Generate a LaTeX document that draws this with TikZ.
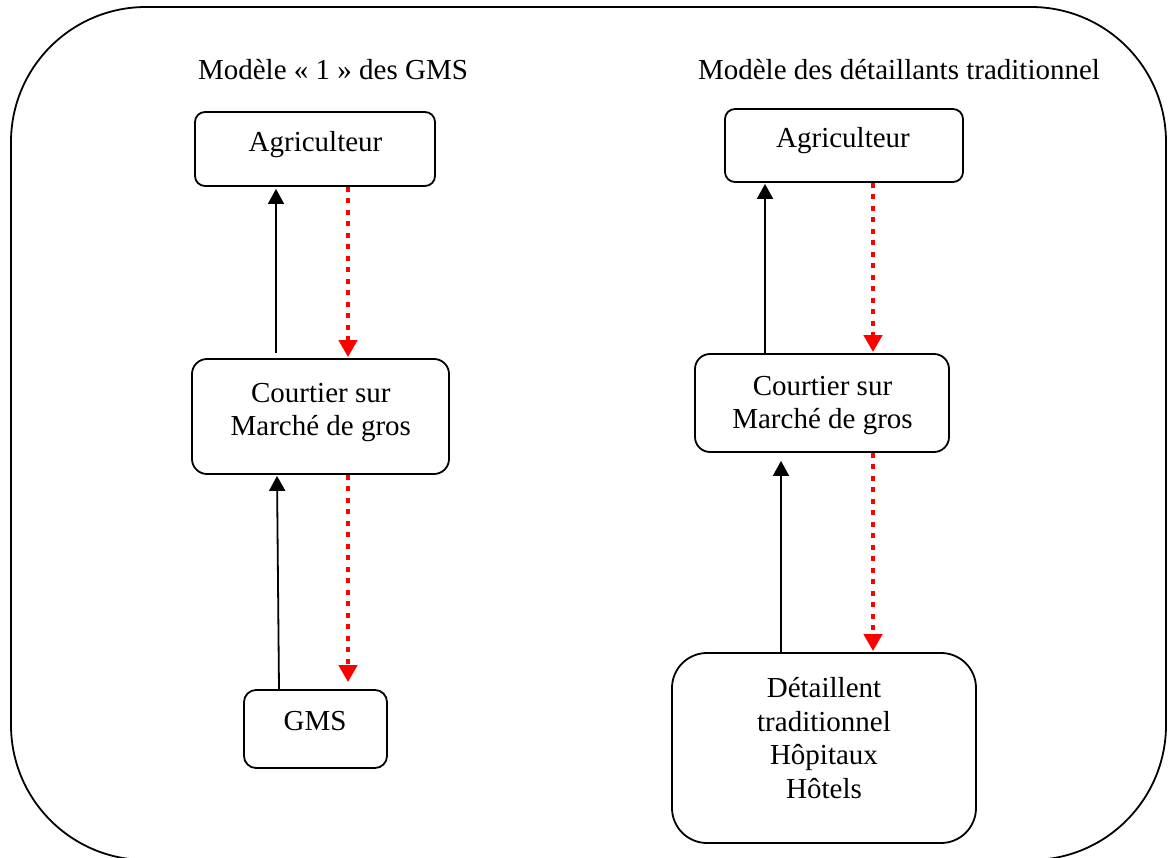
\documentclass[tikz,border=0pt]{standalone}
\usepackage{fontspec}
\setmainfont{Liberation Serif}
\usetikzlibrary{arrows.meta}
\begin{document}
\begin{tikzpicture}[x=1pt,y=-1pt,
  box/.style={draw=black, line width=1.8pt, inner sep=0pt},
  txt/.style={font=\fontsize{29}{33.5}\selectfont, inner sep=0pt, align=center, anchor=base},
  blackarrow/.style={draw=black, line width=1.8pt, -{Triangle[length=15pt,width=16pt]}},
  redarrow/.style={draw=red, line width=4.2pt, dash pattern=on 5pt off 6.5pt, -{Triangle[length=17pt,width=18pt,fill=red]}}
]
\useasboundingbox (0,0) rectangle (1170,858);
\clip (0,0) rectangle (1170,858);
% outer frame
\draw[line width=1.8pt, rounded corners=135pt] (11,7) rectangle (1166,860);

% titles
\node[txt] (titleL) at (333,80) {Modèle « 1 » des GMS};
\node[txt] (titleR) at (899,80) {Modèle des détaillants traditionnel};

% left column boxes
\node[box, rounded corners=10pt, minimum width=240pt, minimum height=74pt] (agL) at (315,149) {};
\node[box, rounded corners=15pt, minimum width=257pt, minimum height=115pt] (coL) at (320.5,416.5) {};
\node[box, rounded corners=12pt, minimum width=143pt, minimum height=78pt] (gms) at (315.5,729) {};
\node[txt] (agLt) at (315.5,152) {Agriculteur};
\node[txt] (coLt) at (320.8,435.5) {Courtier sur\\Marché de gros};
\node[txt] (gmst) at (315,730) {GMS};

% right column boxes
\node[box, rounded corners=10pt, minimum width=238pt, minimum height=73pt] (agR) at (844,145.5) {};
\node[box, rounded corners=15pt, minimum width=254pt, minimum height=98pt] (coR) at (822,403) {};
\node[box, rounded corners=35pt, minimum width=304pt, minimum height=190pt] (det) at (824,748) {};
\node[txt] (agRt) at (843,148) {Agriculteur};
\node[txt] (coRt) at (822.5,428.5) {Courtier sur\\Marché de gros};
\node[txt] (dett) at (824,798) {Détaillent\\traditionnel\\Hôpitaux\\Hôtels};

% x positions
\coordinate (xa) at (276,0);
\coordinate (xb) at (348,0);
\coordinate (xc) at (279,0);
\coordinate (xd) at (277,0);
\coordinate (xe) at (765,0);
\coordinate (xf) at (873,0);
\coordinate (xg) at (781,0);

% left connectors
\draw[blackarrow, shorten <=5pt, shorten >=2pt] (coL.north -| xa) -- (agL.south -| xa);
\draw[redarrow, shorten >=1pt] (agL.south -| xb) -- (coL.north -| xb);
\draw[blackarrow, shorten >=1pt] (gms.north -| xc) -- (coL.south -| xd);
\draw[redarrow, shorten >=7pt] (coL.south -| xb) -- (gms.north -| xb);

% right connectors
\draw[blackarrow, shorten >=1pt] (coR.north -| xe) -- (agR.south -| xe);
\draw[redarrow, shorten >=1pt] (agR.south -| xf) -- (coR.north -| xf);
\draw[blackarrow, shorten >=8pt] (det.north -| xg) -- (coR.south -| xg);
\draw[redarrow, shorten >=1pt] (coR.south -| xf) -- (det.north -| xf);
\end{tikzpicture}
\end{document}
